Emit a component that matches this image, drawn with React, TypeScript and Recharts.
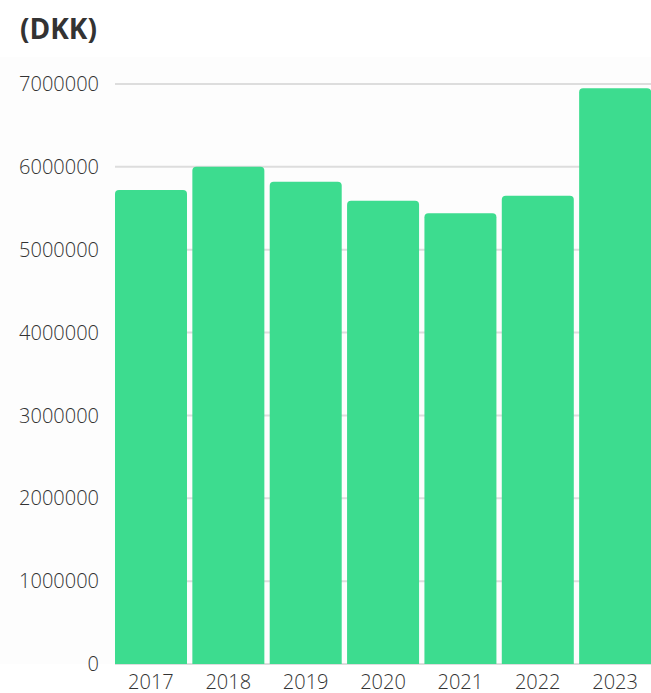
import React from "react";
import { BarChart, Bar, XAxis, YAxis, CartesianGrid } from "recharts";

const years = ["2017", "2018", "2019", "2020", "2021", "2022", "2023"];
const values = [5720000, 6000000, 5820000, 5590000, 5440000, 5650000, 6950000];
const yTicks = [0, 1000000, 2000000, 3000000, 4000000, 5000000, 6000000, 7000000];

const data = years.map((y, i) => ({ year: y, value: values[i] }));

const font = "'Open Sans', sans-serif";

export default function App() {
  return (
    <div style={{ position: "absolute", left: 0, top: 0, width: 651, height: 693, background: "#fff", overflow: "hidden" }}>
      <div style={{ position: "absolute", left: 0, top: 57, width: 651, height: 607, background: "#fdfdfd" }} />
      <div
        style={{
          position: "absolute",
          left: 20,
          top: 9,
          fontFamily: font,
          fontWeight: 700,
          fontSize: 28,
          color: "#333",
          lineHeight: "38px",
        }}
      >
        (DKK)
      </div>
      <div style={{ position: "absolute", left: 0, top: 0 }}>
        <BarChart
          width={651}
          height={693}
          data={data}
          margin={{ top: 84, right: 0, bottom: 0, left: 0 }}
          barCategoryGap={2.75}
        >
          <CartesianGrid vertical={false} stroke="#dddddd" strokeWidth={2} />
          <XAxis
            dataKey="year"
            height={29}
            axisLine={false}
            tickLine={false}
            tickSize={0}
            tickMargin={11}
            padding={{ left: -2.75, right: -2.75 }}
            tick={{ fill: "#333", fontSize: 20, fontFamily: font, fontWeight: 300 }}
          />
          <YAxis
            width={115}
            domain={[0, 7000000]}
            ticks={yTicks}
            axisLine={false}
            tickLine={false}
            tickSize={0}
            tickMargin={16}
            interval={0}
            tick={{ fill: "#333", fontSize: 20, fontFamily: font, fontWeight: 300 }}
          />
          <Bar dataKey="value" fill="#3ddc8f" radius={[4, 4, 0, 0]} isAnimationActive={false} />
        </BarChart>
      </div>
    </div>
  );
}
